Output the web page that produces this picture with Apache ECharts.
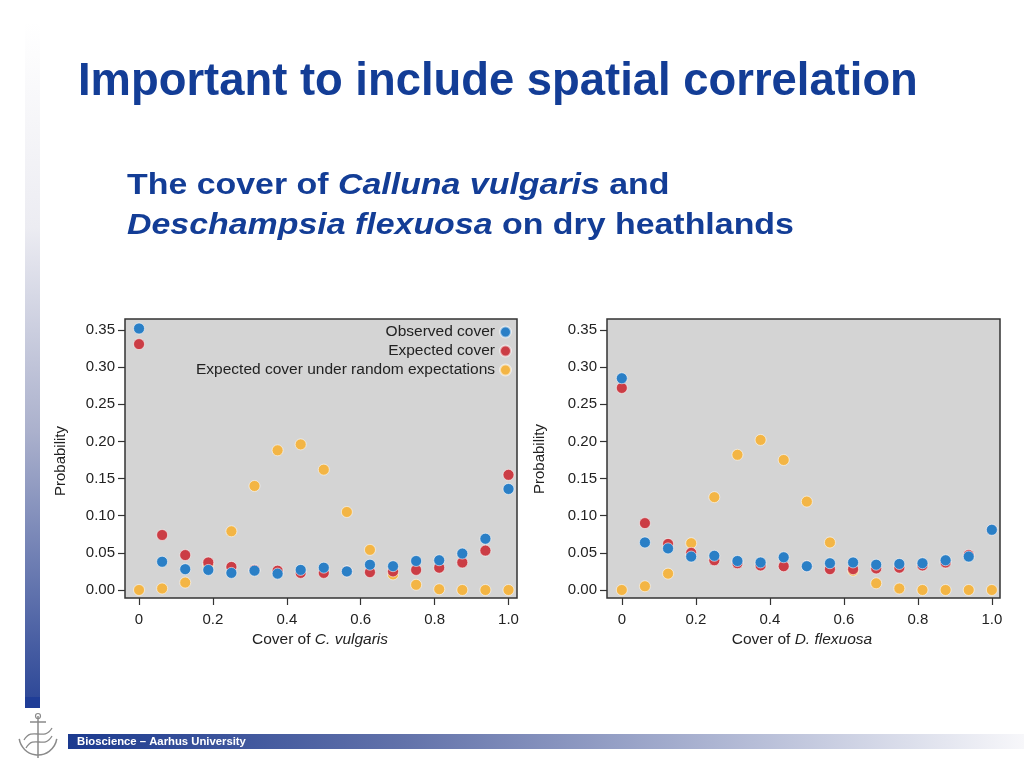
<!DOCTYPE html>
<html><head><meta charset="utf-8">
<script src="https://cdn.jsdelivr.net/npm/echarts@6/dist/echarts.min.js"></script>
<style>html,body{margin:0;padding:0;background:#fff}#c{width:1024px;height:768px}</style>
</head><body><div id="c"></div>
<script>
// ---- data ----
const coverBins = [0, 0.0625, 0.125, 0.1875, 0.25, 0.3125, 0.375, 0.4375, 0.5, 0.5625, 0.625, 0.6875, 0.75, 0.8125, 0.875, 0.9375, 1];
const seriesNames = ['Observed cover', 'Expected cover', 'Expected cover under random expectations'];
const callunaObserved = [0.352, 0.038, 0.028, 0.027, 0.023, 0.026, 0.022, 0.027, 0.030, 0.025, 0.034, 0.032, 0.039, 0.040, 0.049, 0.069, 0.136];
const callunaExpected = [0.331, 0.074, 0.047, 0.037, 0.031, 0.027, 0.026, 0.023, 0.023, 0.025, 0.024, 0.025, 0.027, 0.030, 0.037, 0.053, 0.155];
const callunaRandom   = [0.000, 0.002, 0.010, 0.034, 0.079, 0.140, 0.188, 0.196, 0.162, 0.105, 0.054, 0.021, 0.007, 0.001, 0.000, 0.000, 0.000];
const deschObserved = [0.285, 0.064, 0.056, 0.045, 0.046, 0.039, 0.037, 0.044, 0.032, 0.036, 0.037, 0.034, 0.035, 0.036, 0.040, 0.045, 0.081];
const deschExpected = [0.272, 0.090, 0.062, 0.050, 0.040, 0.036, 0.033, 0.032, 0.032, 0.028, 0.028, 0.029, 0.030, 0.033, 0.037, 0.047, 0.081];
const deschRandom   = [0.000, 0.005, 0.022, 0.063, 0.125, 0.182, 0.202, 0.175, 0.119, 0.064, 0.026, 0.009, 0.002, 0.000, 0.000, 0.000, 0.000];
const xTickValues = [0, 0.2, 0.4, 0.6, 0.8, 1.0];
const yTickValues = [0, 0.05, 0.10, 0.15, 0.20, 0.25, 0.30, 0.35];

// ---- style ----
const FONT = '"Liberation Sans", Arial, sans-serif';
const COLORS = { obs: '#2a7fc6', exp: '#cb3d45', rnd: '#f3b545' };
const BLUE = '#133d96';
const chart = echarts.init(document.getElementById('c'), null, { renderer: 'canvas' });

function pairs(vals) { return coverBins.map((x, i) => [x, vals[i]]); }
function xAxis(gi, min, max) {
  return {
    type: 'value', gridIndex: gi, min: min, max: max, position: 'bottom',
    axisLine: { show: false, onZero: false }, splitLine: { show: false },
    axisTick: { show: true, inside: false, length: 7, customValues: xTickValues, lineStyle: { color: '#333', width: 1.2 } },
    axisLabel: { customValues: xTickValues, formatter: v => (v === 0 ? '0' : v.toFixed(1)),
      color: '#222', fontSize: 15, margin: 14, fontFamily: FONT }
  };
}
function yAxis(gi) {
  return {
    type: 'value', gridIndex: gi, min: -0.0108, max: 0.3648, position: 'left',
    axisLine: { show: false, onZero: false }, splitLine: { show: false },
    axisTick: { show: true, inside: false, length: 7, customValues: yTickValues, lineStyle: { color: '#333', width: 1.2 } },
    axisLabel: { customValues: yTickValues, formatter: v => v.toFixed(2),
      color: '#222', fontSize: 15, margin: 10, fontFamily: FONT }
  };
}
function scatter(name, vals, color, gi) {
  return {
    type: 'scatter', name: name, xAxisIndex: gi, yAxisIndex: gi, data: pairs(vals),
    symbolSize: 11, itemStyle: { color: color, opacity: 1, borderColor: 'rgba(255,255,255,0.55)', borderWidth: 1 },
    emphasis: { disabled: true }, silent: true
  };
}

const option = {
  animation: false,
  backgroundColor: '#ffffff',
  grid: [
    { left: 125, top: 319, width: 392, height: 279, show: true, backgroundColor: '#d4d4d4', borderColor: '#333', borderWidth: 1.5 },
    { left: 607, top: 319, width: 393, height: 279, show: true, backgroundColor: '#d4d4d4', borderColor: '#333', borderWidth: 1.5 }
  ],
  xAxis: [xAxis(0, -0.038, 1.023), xAxis(1, -0.04, 1.022)],
  yAxis: [yAxis(0), yAxis(1)],
  legend: {
    data: seriesNames, orient: 'vertical', align: 'right', right: 507, top: 319,
    itemWidth: 11, itemHeight: 11, itemGap: 3, icon: 'circle', selectedMode: false,
    textStyle: { fontSize: 15.5, color: '#222', fontFamily: FONT, lineHeight: 15 }
  },
  series: [
    scatter(seriesNames[2], callunaRandom, COLORS.rnd, 0),
    scatter(seriesNames[1], callunaExpected, COLORS.exp, 0),
    scatter(seriesNames[0], callunaObserved, COLORS.obs, 0),
    scatter(seriesNames[2], deschRandom, COLORS.rnd, 1),
    scatter(seriesNames[1], deschExpected, COLORS.exp, 1),
    scatter(seriesNames[0], deschObserved, COLORS.obs, 1)
  ],
  graphic: [
    // left decorative gradient bar
    { type: 'rect', shape: { x: 25, y: 22, width: 15, height: 686 }, silent: true,
      style: { fill: new echarts.graphic.LinearGradient(0, 0, 0, 1, [
        { offset: 0, color: '#ffffff' }, { offset: 0.3, color: '#ececf2' },
        { offset: 0.6, color: '#aab0cc' }, { offset: 1, color: '#2a4596' }]) } },
    { type: 'rect', shape: { x: 25, y: 697, width: 15, height: 11 }, silent: true, style: { fill: '#1f3d97' } },
    // title
    { type: 'text', x: 78, y: 82, silent: true,
      style: { text: 'Important to include spatial correlation', font: 'bold 45.4px ' + FONT, fill: BLUE, verticalAlign: 'middle' } },
    // subtitle
    { type: 'text', x: 127, y: 186, scaleX: 1.13, silent: true,
      style: { text: 'The cover of {i|Calluna vulgaris} and', font: 'bold 30px ' + FONT, fill: BLUE, verticalAlign: 'middle',
        rich: { i: { font: 'italic bold 30px ' + FONT, fill: BLUE } } } },
    { type: 'text', x: 127, y: 226, scaleX: 1.13, silent: true,
      style: { text: '{i|Deschampsia flexuosa} on dry heathlands', font: 'bold 30px ' + FONT, fill: BLUE, verticalAlign: 'middle',
        rich: { i: { font: 'italic bold 30px ' + FONT, fill: BLUE } } } },
    // axis names
    { type: 'text', x: 61, y: 461, rotation: Math.PI / 2, silent: true,
      style: { text: 'Probability', font: '15px ' + FONT, fill: '#222', align: 'center', verticalAlign: 'middle' } },
    { type: 'text', x: 540, y: 459, rotation: Math.PI / 2, silent: true,
      style: { text: 'Probability', font: '15px ' + FONT, fill: '#222', align: 'center', verticalAlign: 'middle' } },
    { type: 'text', x: 320, y: 640, silent: true,
      style: { text: 'Cover of {i|C. vulgaris}', font: '15.5px ' + FONT, fill: '#222', align: 'center', verticalAlign: 'middle',
        rich: { i: { font: 'italic 15.5px ' + FONT, fill: '#222' } } } },
    { type: 'text', x: 802, y: 640, silent: true,
      style: { text: 'Cover of {i|D. flexuosa}', font: '15.5px ' + FONT, fill: '#222', align: 'center', verticalAlign: 'middle',
        rich: { i: { font: 'italic 15.5px ' + FONT, fill: '#222' } } } },
    // footer band
    { type: 'rect', shape: { x: 68, y: 734, width: 956, height: 15 }, silent: true,
      style: { fill: new echarts.graphic.LinearGradient(0, 0, 1, 0, [
        { offset: 0, color: '#1b3a8f' }, { offset: 0.35, color: '#6272aa' }, { offset: 1, color: '#f7f7fa' }]) } },
    { type: 'text', x: 77, y: 741.5, silent: true,
      style: { text: 'Bioscience \u2013 Aarhus University', font: 'bold 11.3px ' + FONT, fill: '#ffffff', verticalAlign: 'middle' } },
    // simple anchor logo
    { type: 'group', silent: true, children: [
      { type: 'arc', shape: { cx: 38, cy: 736, r: 19, startAngle: Math.PI * 0.05, endAngle: Math.PI * 0.95 },
        style: { stroke: '#8a8a8a', lineWidth: 1.5, fill: null } },
      { type: 'line', shape: { x1: 38, y1: 716, x2: 38, y2: 758 }, style: { stroke: '#8a8a8a', lineWidth: 1.5 } },
      { type: 'line', shape: { x1: 30, y1: 722, x2: 46, y2: 722 }, style: { stroke: '#8a8a8a', lineWidth: 1.5 } },
      { type: 'circle', shape: { cx: 38, cy: 716, r: 2.5 }, style: { stroke: '#8a8a8a', lineWidth: 1.2, fill: null } },
      { type: 'bezierCurve', shape: { x1: 24, y1: 740, x2: 52, y2: 728, cpx1: 32, cpy1: 726, cpx2: 44, cpy2: 742 },
        style: { stroke: '#8a8a8a', lineWidth: 1.3, fill: null } },
      { type: 'bezierCurve', shape: { x1: 26, y1: 748, x2: 52, y2: 736, cpx1: 34, cpy1: 734, cpx2: 44, cpy2: 750 },
        style: { stroke: '#8a8a8a', lineWidth: 1.3, fill: null } }
    ] }
  ]
};
chart.setOption(option);
</script></body></html>
